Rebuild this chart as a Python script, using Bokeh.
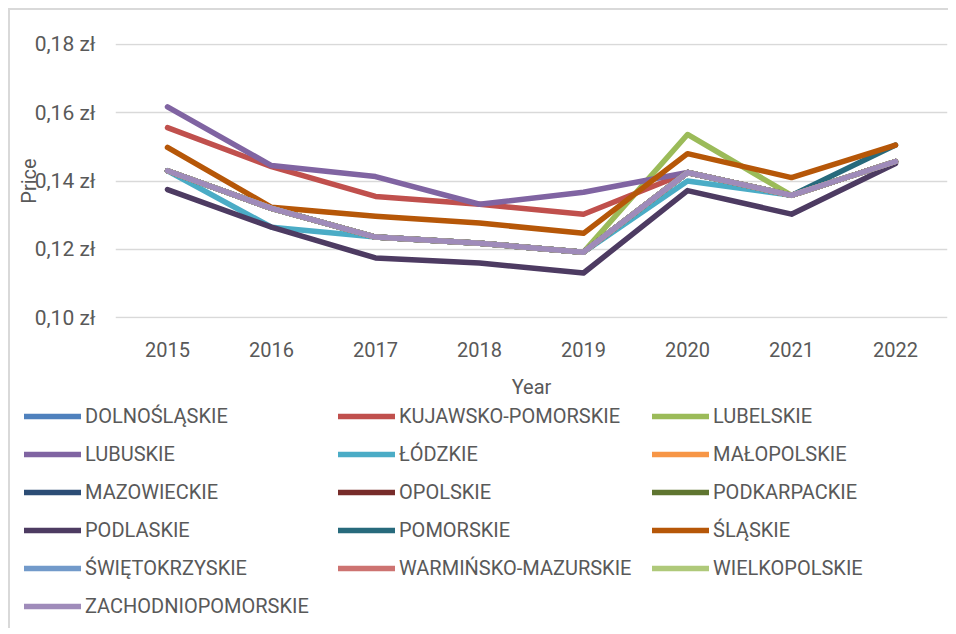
from bokeh.plotting import figure
from bokeh.layouts import column
from bokeh.models import (FactorRange, Range1d, FixedTicker, CustomJSTickFormatter,
                          Legend, LegendItem)
from bokeh.embed import file_html
from bokeh.resources import INLINE

years = ["2015", "2016", "2017", "2018", "2019", "2020", "2021", "2022"]

dolnoslaskie = [0.143, 0.132, 0.1236, 0.1218, 0.1192, 0.1425, 0.1358, 0.1457]
kujawsko_pomorskie = [0.1556, 0.1442, 0.1355, 0.1332, 0.1303, 0.1425, 0.1358, 0.1457]
lubelskie = [0.143, 0.132, 0.1236, 0.1218, 0.1192, 0.1536, 0.1358, 0.1457]
lubuskie = [0.1617, 0.1445, 0.1413, 0.1332, 0.1367, 0.1425, 0.1358, 0.1457]
lodzkie = [0.143, 0.1265, 0.1236, 0.1218, 0.1192, 0.1400, 0.1358, 0.1457]
malopolskie = [0.143, 0.132, 0.1236, 0.1218, 0.1192, 0.1425, 0.1358, 0.1457]
mazowieckie = [0.143, 0.132, 0.1236, 0.1218, 0.1192, 0.1425, 0.1358, 0.1457]
opolskie = [0.143, 0.132, 0.1236, 0.1218, 0.1192, 0.1425, 0.1358, 0.1457]
podkarpackie = [0.143, 0.132, 0.1236, 0.1218, 0.1192, 0.1425, 0.1358, 0.1457]
podlaskie = [0.1375, 0.1265, 0.1175, 0.1160, 0.1131, 0.1372, 0.1303, 0.1451]
pomorskie = [0.143, 0.132, 0.1236, 0.1218, 0.1192, 0.1425, 0.1358, 0.1505]
slaskie = [0.1498, 0.1323, 0.1297, 0.1277, 0.1247, 0.1480, 0.1410, 0.1505]
swietokrzyskie = [0.143, 0.132, 0.1236, 0.1218, 0.1192, 0.1425, 0.1358, 0.1457]
warminsko_mazurskie = [0.143, 0.132, 0.1236, 0.1218, 0.1192, 0.1425, 0.1358, 0.1457]
wielkopolskie = [0.143, 0.132, 0.1236, 0.1218, 0.1192, 0.1425, 0.1358, 0.1457]
zachodniopomorskie = [0.143, 0.132, 0.1236, 0.1218, 0.1192, 0.1425, 0.1358, 0.1457]

names = ["DOLNOŚLĄSKIE", "KUJAWSKO-POMORSKIE", "LUBELSKIE", "LUBUSKIE", "ŁÓDZKIE",
         "MAŁOPOLSKIE", "MAZOWIECKIE", "OPOLSKIE", "PODKARPACKIE", "PODLASKIE",
         "POMORSKIE", "ŚLĄSKIE", "ŚWIĘTOKRZYSKIE", "WARMIŃSKO-MAZURSKIE",
         "WIELKOPOLSKIE", "ZACHODNIOPOMORSKIE"]
series = [dolnoslaskie, kujawsko_pomorskie, lubelskie, lubuskie, lodzkie, malopolskie,
          mazowieckie, opolskie, podkarpackie, podlaskie, pomorskie, slaskie,
          swietokrzyskie, warminsko_mazurskie, wielkopolskie, zachodniopomorskie]
colors = ["#4F81BD", "#C0504D", "#9BBB59", "#8064A2", "#4BACC6", "#F79646",
          "#2C4D75", "#772C2A", "#5F7530", "#4D3B62", "#276A7C", "#B65708",
          "#729ACA", "#CD7371", "#AFC97A", "#9F8BBA"]
y_ticks = [0.10, 0.12, 0.14, 0.16, 0.18]

FONT = "Roboto"
GRAY = "#595959"
W = 938

# ---------------- main chart ----------------
p = figure(x_range=FactorRange(*years), y_range=Range1d(0.0998, 0.1802),
           width=W, height=392, output_backend="svg", toolbar_location=None,
           min_border_left=105, min_border_right=1, min_border_top=33,
           min_border_bottom=84)
p.frame_align = False
p.outline_line_color = None
p.xgrid.visible = False
p.ygrid.grid_line_color = "#d9d9d9"
p.ygrid.grid_line_width = 1.5

for vals, col in zip(series, colors):
    p.line(years, vals, line_color=col, line_width=5.5, line_cap="round",
           line_join="round")

p.yaxis.ticker = FixedTicker(ticks=y_ticks)
p.yaxis.formatter = CustomJSTickFormatter(
    code="return tick.toFixed(2).replace('.', ',') + ' zł';")
for ax in (p.xaxis[0], p.yaxis[0]):
    ax.axis_line_color = None
    ax.major_tick_line_color = None
    ax.minor_tick_line_color = None
    ax.major_label_text_font = FONT
    ax.major_label_text_font_size = "20px"
    ax.major_label_text_color = GRAY
    ax.axis_label_text_font = FONT
    ax.axis_label_text_font_size = "20px"
    ax.axis_label_text_color = GRAY
    ax.axis_label_text_font_style = "normal"

p.yaxis.major_label_text_font_size = "21px"
p.yaxis.major_label_standoff = 14
p.xaxis.major_label_standoff = 17
p.xaxis.axis_label = "Year"
p.xaxis.axis_label_standoff = 15
p.yaxis.axis_label = "Price"
p.yaxis.axis_label_standoff = -9

# ---------------- legend panel ----------------
LH = 226
lg = figure(width=W, height=LH, output_backend="svg", toolbar_location=None,
            x_axis_type=None, y_axis_type=None, min_border=0)
lg.frame_align = False
lg.outline_line_color = None
lg.grid.visible = False

nan = float("nan")
swatches = []
for name, col in zip(names, colors):
    r = lg.line(x=[nan], y=[nan], line_color=col, line_width=5.5, line_cap="round")
    swatches.append(LegendItem(label=name, renderers=[r]))

ROW_H = 24
SP = 14
col_x = [14, 328, 642]
for c in range(3):
    its = swatches[c::3]
    h = len(its) * ROW_H + (len(its) - 1) * SP
    leg = Legend(items=its, orientation="vertical", location=(col_x[c], LH - 2 - h),
                 label_text_font=FONT, label_text_font_size="20px",
                 label_text_color=GRAY, glyph_width=57, glyph_height=ROW_H,
                 label_height=ROW_H, label_standoff=4, spacing=SP,
                 padding=0, margin=0, border_line_alpha=0, background_fill_alpha=0)
    lg.add_layout(leg)

layout = column(p, lg, spacing=0,
                styles={"margin-left": "8px", "margin-top": "8px",
                        "border-left": "2px solid #d9d9d9",
                        "border-top": "2px solid #d9d9d9"})

open("out.html", "w").write(file_html(layout, INLINE))
